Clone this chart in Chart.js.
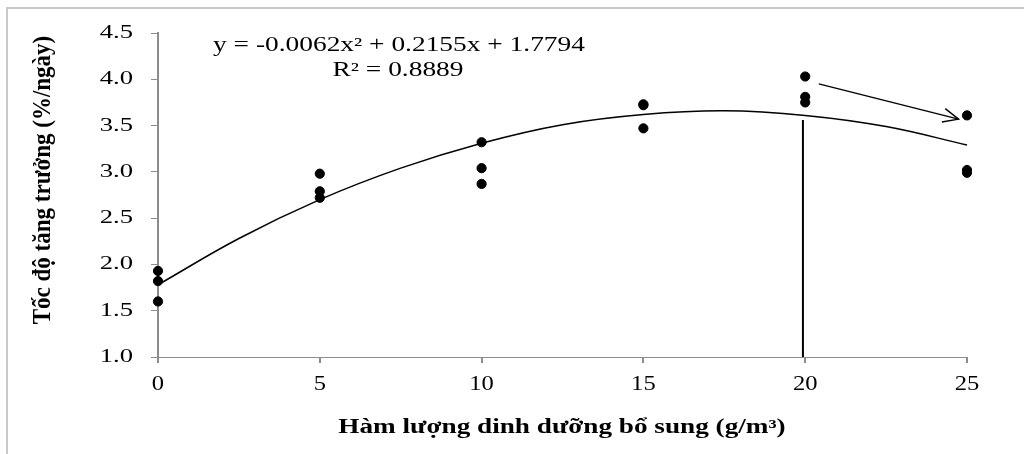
<!DOCTYPE html>
<html>
<head>
<meta charset="utf-8">
<script src="https://cdn.jsdelivr.net/npm/chart.js@4/dist/chart.umd.min.js"></script>
<style>
  html, body { margin: 0; padding: 0; background: #fff; }
  canvas { display: block; }
</style>
</head>
<body>
<canvas id="growthChart" width="1024" height="454"></canvas>
<script>
// ---- Data ---------------------------------------------------------------
const doses       = [0, 0, 0, 5, 5, 5, 10, 10, 10, 15, 15, 15, 20, 20, 20, 25, 25, 25];
const growthRates = [1.93, 1.82, 1.60, 2.98, 2.79, 2.72, 3.32, 3.04, 2.87,
                     3.73, 3.72, 3.47, 4.03, 3.81, 3.75, 3.61, 3.02, 2.99];

// trendline
const trendX = [0, 2.5, 5, 7.5, 10, 12.5, 15, 17.5, 20, 22.5, 25];
const trendY = [1.78, 2.28, 2.70, 3.04, 3.31, 3.51, 3.62, 3.66, 3.61, 3.49, 3.29];

// annotation marks (data units)
const markerX = [19.93, 19.93];
const markerY = [1.0, 3.56];
const arrowX  = [20.42, 24.74];
const arrowY  = [3.95, 3.57];

const xTicks      = [0, 5, 10, 15, 20, 25];
const xTickLabels = ["0", "5", "10", "15", "20", "25"];
const yTicks      = [1.0, 1.5, 2.0, 2.5, 3.0, 3.5, 4.0, 4.5];
const yTickLabels = ["1.0", "1.5", "2.0", "2.5", "3.0", "3.5", "4.0", "4.5"];

const equationText = "y = -0.0062x\u00B2 + 0.2155x + 1.7794";
const r2Text       = "R\u00B2 = 0.8889";
const xTitle       = "Hàm lượng dinh dưỡng bổ sung (g/m\u00B3)";
const yTitle       = "Tốc độ tăng trưởng (%/ngày)";

const toXY = (xs, ys) => xs.map((x, i) => ({ x, y: ys[i] }));

// ---- Helpers --------------------------------------------------------------
const SERIF = '"Liberation Serif", "Times New Roman", serif';
const AXIS_GREY = "#8c8c8c";

// the reference is stretched sideways, so text gets a horizontal scale
function stretchedText(ctx, text, x, y, opt) {
  ctx.save();
  ctx.font = opt.font;
  ctx.fillStyle = "#000";
  ctx.textAlign = opt.align || "center";
  ctx.textBaseline = opt.baseline || "middle";
  ctx.translate(x, y);
  ctx.scale(opt.sx || 1, 1);
  if (opt.rotate) ctx.rotate(opt.rotate);
  ctx.fillText(text, 0, 0);
  ctx.restore();
}

const decorPlugin = {
  id: "decor",
  beforeDraw(chart) {
    const { ctx } = chart;
    ctx.save();
    ctx.strokeStyle = "#c8c8c8";
    ctx.lineWidth = 2;
    ctx.beginPath();
    ctx.moveTo(1024, 8);
    ctx.lineTo(7, 8);
    ctx.lineTo(7, 454);
    ctx.stroke();
    ctx.restore();
  },
  afterDraw(chart) {
    const { ctx, scales: { x, y } } = chart;

    // tick labels
    yTicks.forEach((v, i) => {
      stretchedText(ctx, yTickLabels[i], x.left - 25, y.getPixelForValue(v),
        { font: `19px ${SERIF}`, sx: 1.4, align: "right" });
    });
    xTicks.forEach((v, i) => {
      stretchedText(ctx, xTickLabels[i], x.getPixelForValue(v), y.bottom + 27,
        { font: `21px ${SERIF}`, sx: 1.17 });
    });

    // axis titles
    stretchedText(ctx, xTitle, 562, 428, { font: `bold 20px ${SERIF}`, sx: 1.36 });
    stretchedText(ctx, yTitle, 44, 180,
      { font: `bold 23px ${SERIF}`, sx: 1.05, rotate: -Math.PI / 2 });

    // regression equation
    stretchedText(ctx, equationText, 399, 46, { font: `20px ${SERIF}`, sx: 1.37 });
    stretchedText(ctx, r2Text, 398, 71, { font: `20px ${SERIF}`, sx: 1.37 });

    // open arrow head at end of the arrow dataset
    const pts = chart.getDatasetMeta(3).data;
    const a = pts[0], b = pts[1];
    const ang = Math.atan2(b.y - a.y, b.x - a.x);
    const len = 17, spread = 0.42;
    ctx.save();
    ctx.strokeStyle = "#000";
    ctx.lineWidth = 1.4;
    ctx.beginPath();
    ctx.moveTo(b.x - len * Math.cos(ang - spread), b.y - len * Math.sin(ang - spread));
    ctx.lineTo(b.x, b.y);
    ctx.lineTo(b.x - len * Math.cos(ang + spread), b.y - len * Math.sin(ang + spread));
    ctx.stroke();
    ctx.restore();
  }
};

// ---- Chart ----------------------------------------------------------------
new Chart(document.getElementById("growthChart"), {
  type: "scatter",
  data: {
    datasets: [
      {
        label: "Observed",
        data: toXY(doses, growthRates),
        backgroundColor: "#000",
        borderColor: "#000",
        pointRadius: 4.6,
        pointHoverRadius: 4.6,
        order: 0,
        clip: false
      },
      {
        label: "Trend",
        type: "line",
        data: toXY(trendX, trendY),
        borderColor: "#000",
        borderWidth: 1.5,
        pointRadius: 0,
        tension: 0.4,
        fill: false,
        order: 1,
        clip: false
      },
      {
        label: "Marker",
        type: "line",
        data: toXY(markerX, markerY),
        borderColor: "#000",
        borderWidth: 2,
        pointRadius: 0,
        fill: false,
        order: 2,
        clip: false
      },
      {
        label: "Arrow",
        type: "line",
        data: toXY(arrowX, arrowY),
        borderColor: "#000",
        borderWidth: 1.4,
        pointRadius: 0,
        fill: false,
        order: 3,
        clip: false
      }
    ]
  },
  options: {
    responsive: false,
    animation: false,
    layout: { padding: { left: 0, top: 33, right: 57, bottom: 0 } },
    plugins: {
      legend: { display: false },
      tooltip: { enabled: false }
    },
    scales: {
      x: {
        type: "linear",
        min: 0,
        max: 25,
        afterBuildTicks: (s) => { s.ticks = xTicks.map((v) => ({ value: v })); },
        afterFit: (s) => { s.height = 97; },
        ticks: { display: false },
        grid: { drawOnChartArea: false, drawTicks: true, tickLength: 6, color: AXIS_GREY, lineWidth: 2 },
        border: { color: AXIS_GREY, width: 1 }
      },
      y: {
        type: "linear",
        min: 1,
        max: 4.5,
        afterBuildTicks: (s) => { s.ticks = yTicks.map((v) => ({ value: v })); },
        afterFit: (s) => { s.width = 158; },
        ticks: { display: false },
        grid: { drawOnChartArea: false, drawTicks: true, tickLength: 7, color: AXIS_GREY, lineWidth: 1 },
        border: { color: AXIS_GREY, width: 2 }
      }
    }
  },
  plugins: [decorPlugin]
});
</script>
</body>
</html>
